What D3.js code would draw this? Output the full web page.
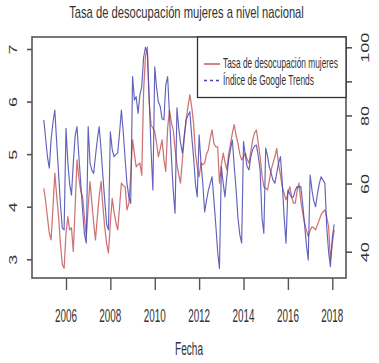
<!DOCTYPE html>
<html><head><meta charset="utf-8">
<script src="https://cdn.jsdelivr.net/npm/d3@7/dist/d3.min.js"></script>
<style>
html,body{margin:0;padding:0;background:#fff;}
svg{display:block;}
text{font-family:"Liberation Sans",Arial,sans-serif;fill:#333;}
</style></head>
<body>
<svg id="chart" width="379" height="363"></svg>
<script>
// ---- data (monthly, Jan 2005 .. Feb 2018) ----
const startMonth = new Date(2005, 0, 1);
const endMonth = new Date(2018, 2, 1);
const tasaMujeres = [
4.35,4.1,3.8,3.5,3.37,4.0,4.64,4.2,3.81,3.3,2.9,2.83,
3.5,3.81,3.56,3.6,3.15,4.0,4.89,4.55,4.3,4.19,3.8,3.43,
4.0,4.48,4.1,3.7,3.37,3.8,4.2,4.48,4.0,3.6,3.3,3.12,
3.7,4.16,3.9,3.7,3.56,4.0,4.45,4.4,4.38,3.94,4.07,4.6,
5.27,5.0,4.76,4.8,4.83,4.6,6.2,6.85,7.04,6.0,5.55,5.5,
5.43,5.2,4.95,5.1,5.27,4.9,4.67,5.5,5.84,5.6,5.46,5.1,
4.8,4.6,4.45,4.9,5.3,5.65,5.9,6.13,5.9,5.6,5.02,4.75,
4.57,4.83,4.8,4.83,5.0,5.08,5.3,5.46,5.2,5.14,5.14,4.45,
4.8,5.02,4.85,4.7,5.0,5.2,5.4,5.56,5.35,5.21,5.0,4.89,
4.95,5.02,4.9,4.83,5.05,5.27,5.4,5.46,5.2,4.95,4.6,4.38,
4.35,4.32,4.5,4.7,4.83,4.95,5.11,4.8,4.6,4.38,4.25,4.13,
4.25,4.38,4.2,4.07,4.07,4.3,4.45,4.1,3.88,3.7,3.55,3.43,
3.55,3.62,3.6,3.56,3.65,3.75,3.85,3.9,3.94,3.8,3.62,3.0,
3.3,3.56
];
const indiceGoogle = [
78.7,73,68,64.5,73,78,81.6,72,63,54,47,46.4,
76.2,66,60,56.6,66,74,76.7,68,60,52,45,42.5,
76.7,66,64,63,68,73,76.7,70,62,55,48,46.4,
75.2,70,67.9,68.5,69,75,81.6,75,67,60,56,54.2,
91.4,84.5,85.5,80.6,86,88.4,97,100,98.2,85,70,58.1,
94.3,88,84,82.6,79,78.7,89,91.4,80,68,58,51.3,
82.2,76,72,68.9,74,78.7,80,81.1,74,67.9,60,56.1,
74.3,66,60.1,51.7,55,58,60,62,55,48,40,35.1,
65,60,56.1,62,67,70,72.8,65,58.1,50,45,42.5,
72.3,68,65,64,68,70,71,71.3,68,64,50,45.4,
70.4,68,65,63,61,60.1,63,66,67.9,60,50,42.5,
58.1,57,56,56.1,58,59.1,59,59.1,54,48,42,37.6,
62.5,58,55,53.2,57,60,62,61,60.1,47.3,40,35.6,
44,48
];
const xTickYears = [2006, 2008, 2010, 2012, 2014, 2016, 2018];
const leftTicks = [3, 4, 5, 6, 7];
const rightTicks = [40, 50, 60, 70, 80, 90, 100];
const rightLabels = [40, 60, 80, 100];
const titleText = "Tasa de desocupación mujeres a nivel nacional";
const xTitle = "Fecha";
const legendLabels = ["Tasa de desocupación mujeres", "Índice de Google Trends"];

// ---- layout ----
const months = d3.timeMonth.range(startMonth, endMonth);
const svg = d3.select("#chart");
const box = {l: 32, r: 346, t: 37, b: 278};

const x = d3.scaleTime()
  .domain([new Date(2006, 0, 1), new Date(2018, 0, 1)])
  .range([66, 332.3]);
const yL = d3.scaleLinear().domain([3, 7]).range([259.3, 49]);
const yR = d3.scaleLinear().domain([40, 100]).range([251.7, 47.3]);

const red = "#c96464", blue = "#4646b2";

// horizontally squeeze a text so that its width is w, anchored at (cx, y)
function squeezed(parent, str, cx, y, size, w, anchor) {
  const t = parent.append("text").attr("x", 0).attr("y", 0)
    .style("font-size", size + "px").attr("text-anchor", anchor).text(str);
  const natural = t.node().getComputedTextLength();
  const k = w / natural;
  t.attr("transform", `translate(${cx},${y}) scale(${k},1)`);
  return t;
}

// lines
const lineRed = d3.line().x((d, i) => x(months[i])).y(d => yL(d));
const lineBlue = d3.line().x((d, i) => x(months[i])).y(d => yR(d));
svg.append("path").datum(tasaMujeres).attr("d", lineRed)
  .attr("fill", "none").attr("stroke", red).attr("stroke-width", 1.25)
  .attr("stroke-opacity", 0.9).attr("stroke-linejoin", "round");
svg.append("path").datum(indiceGoogle).attr("d", lineBlue)
  .attr("fill", "none").attr("stroke", blue).attr("stroke-width", 1.15)
  .attr("stroke-opacity", 0.85).attr("stroke-linejoin", "round");

// box
svg.append("rect").attr("x", box.l).attr("y", box.t)
  .attr("width", box.r - box.l).attr("height", box.b - box.t)
  .attr("fill", "none").attr("stroke", "#555").attr("stroke-width", 1.6);

// bottom axis
const gx = svg.append("g").attr("transform", `translate(0,${box.b})`)
  .call(d3.axisBottom(x).tickValues(xTickYears.map(yv => new Date(yv, 0, 1)))
    .tickSize(12).tickFormat(""));
gx.select(".domain").remove();
gx.selectAll(".tick line").attr("stroke", "#555").attr("stroke-width", 1.4);
xTickYears.forEach(yv => {
  squeezed(svg, String(yv), x(new Date(yv, 0, 1)), 322, 18, 22, "middle");
});

// left axis
const gl = svg.append("g").attr("transform", `translate(${box.l},0)`)
  .call(d3.axisLeft(yL).tickValues(leftTicks).tickSize(5).tickFormat(d3.format("d")));
gl.select(".domain").remove();
gl.selectAll(".tick line").attr("stroke", "#555").attr("stroke-width", 1.6);
gl.selectAll(".tick text").attr("x", null).attr("dy", null)
  .attr("text-anchor", "middle")
  .attr("transform", "translate(-14.7,0) scale(0.62,1) rotate(-90)")
  .style("font-size", "18px").attr("fill", "#333");

// right axis
const gr = svg.append("g").attr("transform", `translate(${box.r},0)`)
  .call(d3.axisRight(yR).tickValues(rightTicks).tickSize(6)
    .tickFormat(d => rightLabels.includes(d) ? d : ""));
gr.select(".domain").remove();
gr.selectAll(".tick line").attr("stroke", "#555").attr("stroke-width", 1.6);
gr.selectAll(".tick text").attr("x", null).attr("dy", null)
  .attr("text-anchor", "middle")
  .attr("transform", "translate(23,0) scale(0.62,1) rotate(-90)")
  .style("font-size", "18px").attr("fill", "#333");

// titles
squeezed(svg, titleText, 186.5, 17.5, 16, 235, "middle");
squeezed(svg, xTitle, 189, 355, 18, 28, "middle");

// legend
const lg = svg.append("g");
lg.append("rect").attr("x", 197.5).attr("y", box.t).attr("width", box.r - 197.5)
  .attr("height", 60.5).attr("fill", "#fff").attr("stroke", "#333").attr("stroke-width", 1.3);
lg.append("line").attr("x1", 204).attr("x2", 220).attr("y1", 64).attr("y2", 64)
  .attr("stroke", red).attr("stroke-width", 1.6);
lg.append("line").attr("x1", 204).attr("x2", 220).attr("y1", 80.5).attr("y2", 80.5)
  .attr("stroke", blue).attr("stroke-width", 1.3).attr("stroke-dasharray", "3,3");
squeezed(lg, legendLabels[0], 223, 67.5, 14, 115, "start");
squeezed(lg, legendLabels[1], 223, 84.5, 14, 91, "start");
</script>
</body></html>
